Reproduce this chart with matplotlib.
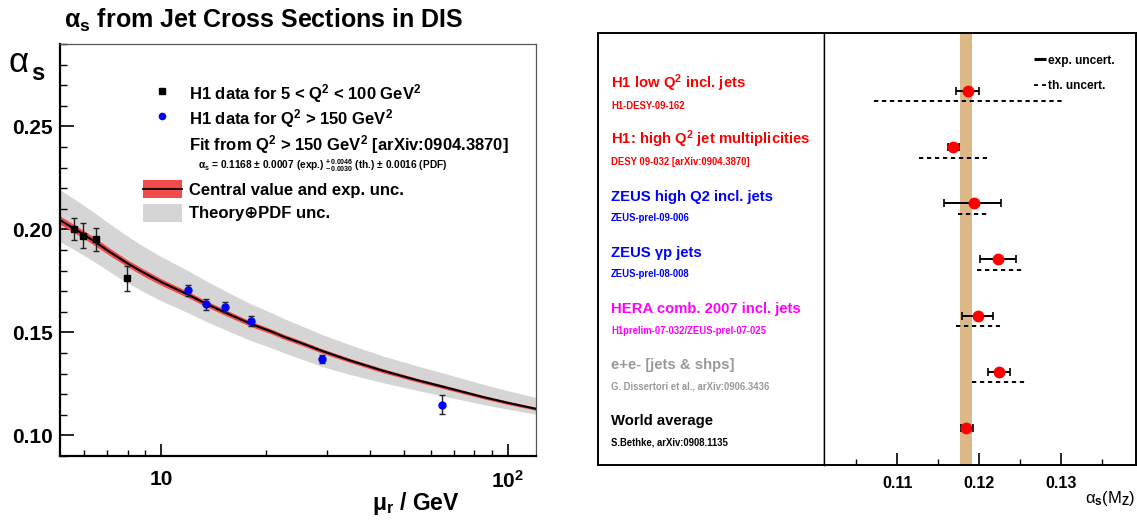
import matplotlib
matplotlib.use("Agg")
import matplotlib.pyplot as plt
import matplotlib.ticker as mt
import matplotlib.transforms as mtrans
from matplotlib.patches import Rectangle
from matplotlib import font_manager
import numpy as np

# ---------------- data: left panel ----------------
lowq_mu = [5.61, 5.97, 6.47, 7.95]
lowq_as = [0.2001, 0.1969, 0.1951, 0.1762]
lowq_err = [0.0054, 0.0060, 0.0057, 0.0061]

highq_mu = [11.97, 13.45, 15.24, 18.15, 29.1, 64.4]
highq_as = [0.1704, 0.1636, 0.1624, 0.1555, 0.1370, 0.1150]
highq_err = [0.0025, 0.0025, 0.0024, 0.0023, 0.0019, 0.0045]

fit_mu = [5.11, 5.61, 5.97, 6.47, 7.08, 7.95, 8.84, 10.05, 11.97, 13.45, 15.24, 18.1,
          20.96, 22.5, 26.15, 29.1, 35.0, 43.6, 54.5, 64.4, 84.9, 100.0, 120.5]
fit_central = [0.2045, 0.2004, 0.1976, 0.1938, 0.1893, 0.1838, 0.1793, 0.1743, 0.1683,
               0.1640, 0.1598, 0.1542, 0.1502, 0.1480, 0.1440, 0.1410, 0.1364, 0.1314,
               0.1269, 0.1238, 0.1186, 0.1158, 0.1129]
fit_exp = [0.0020, 0.0020, 0.0019, 0.0019, 0.0018, 0.0017, 0.0017, 0.0016, 0.0015, 0.0014,
           0.0014, 0.0013, 0.0012, 0.0012, 0.0011, 0.0011, 0.0010, 0.0010, 0.0009, 0.0009,
           0.0008, 0.0008, 0.0007]
fit_th_hi = [0.2192, 0.2148, 0.2118, 0.2077, 0.2029, 0.1970, 0.1921, 0.1866, 0.1799, 0.1751,
             0.1703, 0.1639, 0.1593, 0.1568, 0.1523, 0.1490, 0.1440, 0.1386, 0.1338, 0.1305,
             0.1248, 0.1217, 0.1184]
fit_th_lo = [0.1941, 0.1902, 0.1875, 0.1839, 0.1796, 0.1743, 0.1700, 0.1652, 0.1595, 0.1554,
             0.1514, 0.1461, 0.1423, 0.1402, 0.1363, 0.1334, 0.1296, 0.1256, 0.1219, 0.1193,
             0.1150, 0.1127, 0.1103]

# ---------------- data: right panel ----------------
meas_titles = ["H1 low Q$^2$ incl. jets", "H1: high Q$^2$ jet multiplicities",
               "ZEUS high Q2 incl. jets", "ZEUS \u03b3p jets",
               "HERA comb. 2007 incl. jets", "e+e- [jets & shps]", "World average"]
meas_refs = ["H1-DESY-09-162", "DESY 09-032 [arXiv:0904.3870]", "ZEUS-prel-09-006",
             "ZEUS-prel-08-008", "H1prelim-07-032/ZEUS-prel-07-025",
             "G. Dissertori et al., arXiv:0906.3436", "S.Bethke, arXiv:0908.1135"]
meas_colors = ["#ff0000", "#ff0000", "#0000ff", "#0000ff", "#ff00ff", "#999999", "#000000"]
meas_val = [0.1186, 0.1168, 0.1193, 0.1223, 0.1198, 0.1224, 0.1184]
exp_lo = [0.1172, 0.1162, 0.1157, 0.1201, 0.1179, 0.1211, 0.1178]
exp_hi = [0.1200, 0.1175, 0.1227, 0.1245, 0.1217, 0.1237, 0.1192]
th_lo = [0.1071, 0.1127, 0.1174, 0.1197, 0.1172, 0.1191, np.nan]
th_hi = [0.1302, 0.1209, 0.1211, 0.1253, 0.1225, 0.1258, np.nan]
world_band = [0.1177, 0.1191]
x_ticks_r = [0.11, 0.12, 0.13]

# ---------------- fonts ----------------
names = {f.name for f in font_manager.fontManager.ttflist}
if "Liberation Sans Narrow" in names:
    NARROW = ["Liberation Sans Narrow", "DejaVu Sans"]
    ns = 1.0
else:
    NARROW = ["Liberation Sans", "DejaVu Sans"]
    ns = 0.86

plt.rcParams.update({
    "font.family": ["Liberation Sans", "DejaVu Sans"],
    "font.weight": "bold",
    "mathtext.fontset": "custom",
    "mathtext.rm": "Liberation Sans:bold",
    "mathtext.it": "Liberation Sans:italic:bold",
    "mathtext.bf": "Liberation Sans:bold",
    "mathtext.sf": "Liberation Sans:bold",
    "mathtext.default": "regular",
})

W, H = 1137, 523
fig = plt.figure(figsize=(W / 100, H / 100), dpi=100)


def fbox(x0, y0, x1, y1):
    return [x0 / W, 1 - y1 / H, (x1 - x0) / W, (y1 - y0) / H]

# ================= left panel =================
L, T, R, B = 60, 44, 536, 456
ax = fig.add_axes(fbox(L, T, R, B))
ax.set_xscale("log")
ax.set_xlim(5.11, 120.5)
ax.set_ylim(0.090, 0.290)

ax.fill_between(fit_mu, fit_th_lo, fit_th_hi, color="#d5d5d5", lw=0, zorder=1)
c = np.array(fit_central)
e = np.array(fit_exp)
ax.fill_between(fit_mu, c - e, c + e, color="#f24a4a", lw=0, zorder=2)
ax.plot(fit_mu, fit_central, color="black", lw=1.5, zorder=3)

ax.errorbar(lowq_mu, lowq_as, yerr=lowq_err, fmt="s", ms=5, mfc="black", mec="black",
            ecolor="#222222", elinewidth=1.0, capsize=2, capthick=1.0, zorder=5)
ax.errorbar(highq_mu, highq_as, yerr=highq_err, fmt="o", ms=5, mfc="#0000ff", mec="#0000ff",
            ecolor="#222222", elinewidth=1.0, capsize=2, capthick=1.0, zorder=5)

ax.set_yticks([0.10, 0.15, 0.20, 0.25])
ax.set_yticklabels(["0.10", "0.15", "0.20", "0.25"])
ax.yaxis.set_minor_locator(mt.MultipleLocator(0.01))
ax.set_xticks([10, 100])
ax.set_xticklabels(["10", "10$^2$"])
ax.set_xticks([6, 7, 8, 9, 20, 30, 40, 50, 60, 70, 80, 90], minor=True)
ax.xaxis.set_minor_formatter(mt.NullFormatter())
ax.tick_params(axis="x", which="major", direction="in", length=8.6, width=1.2, pad=10, labelsize=15)
ax.tick_params(axis="x", which="minor", direction="in", length=4.3, width=1.0)
ax.tick_params(axis="y", which="major", direction="in", length=10, width=1.2, pad=5, labelsize=15)
ax.tick_params(axis="y", which="minor", direction="in", length=5, width=1.0)
for s in ["left", "bottom"]:
    ax.spines[s].set_linewidth(1.6)
for s in ["top", "right"]:
    ax.spines[s].set_linewidth(0.9)
    ax.spines[s].set_color("#555555")


def axx(px):
    return (px - L) / (R - L)


def axy(py):
    return (B - py) / (B - T)

# legend (hand placed)
ax.plot([axx(162)], [axy(90.7)], "s", color="black", ms=5, transform=ax.transAxes, clip_on=False)
ax.plot([axx(162)], [axy(116.3)], "o", color="#0000ff", ms=4.5, transform=ax.transAxes, clip_on=False)
lx = axx(189)
ax.text(lx, axy(99.3), "H1 data for 5 < Q$^2$ < 100 GeV$^2$", transform=ax.transAxes,
        fontsize=12, va="baseline")
ax.text(lx, axy(124), "H1 data for Q$^2$ > 150 GeV$^2$", transform=ax.transAxes,
        fontsize=12, va="baseline")
ax.text(lx, axy(150), "Fit from Q$^2$ > 150 GeV$^2$ [arXiv:0904.3870]", transform=ax.transAxes,
        fontsize=12, va="baseline")
ax.text(axx(198.5), axy(168.5),
        "\u03b1$_{\\rm s}$ = 0.1168 \u00b1 0.0007 (exp.) $^{+0.0046}_{-0.0030}$ (th.) \u00b1 0.0016 (PDF)",
        transform=ax.transAxes, fontsize=7.3, va="baseline")
ax.add_patch(Rectangle((axx(143), axy(197.7)), axx(182) - axx(143), axy(180) - axy(197.7),
                       transform=ax.transAxes, facecolor="#f24a4a", edgecolor="none", zorder=6))
ax.plot([axx(143), axx(182)], [axy(188.9), axy(188.9)], color="black", lw=1.3,
        transform=ax.transAxes, zorder=7)
ax.add_patch(Rectangle((axx(143), axy(222.3)), axx(182) - axx(143), axy(204.3) - axy(222.3),
                       transform=ax.transAxes, facecolor="#d5d5d5", edgecolor="none", zorder=6))
ax.text(lx, axy(195), "Central value and exp. unc.", transform=ax.transAxes, fontsize=12, va="baseline")
ax.text(lx, axy(218.3), "Theory\u2295PDF unc.", transform=ax.transAxes, fontsize=12, va="baseline")

# titles / axis labels
fig.text(64 / W, 1 - 28 / H, "\u03b1$_{\\rm s}$ from Jet Cross Sections in DIS", fontsize=18,
         va="baseline")
fig.text(9 / W, 1 - 72 / H, "\u03b1", fontsize=25, weight="normal", va="baseline")
fig.text(31 / W, 1 - 80 / H, "s", fontsize=17, va="baseline")
fig.text(460 / W, 1 - 510 / H, "\u03bc$_{\\rm r}$ / GeV", fontsize=16.5, ha="right", va="baseline")

# ================= right panel =================
RL, RD, RR, RT, RB = 598, 823.7, 1135.6, 32.7, 465
row_px0, row_dpx = 90.7, 56.2
ylo = (RB - row_px0) / row_dpx
yhi = (RT - row_px0) / row_dpx

ax_lab = fig.add_axes(fbox(RL, RT, RD, RB))
ax_lab.set_xlim(0, 1)
ax_lab.set_ylim(ylo, yhi)
ax_lab.set_xticks([])
ax_lab.set_yticks([])
for s in ax_lab.spines.values():
    s.set_linewidth(1.4)
ax_lab.spines["right"].set_linewidth(1.0)

ax_r = fig.add_axes(fbox(RD, RT, RR, RB))
ax_r.set_xlim(0.1010, 0.1391)
ax_r.set_ylim(ylo, yhi)
ax_r.set_yticks([])
for s in ax_r.spines.values():
    s.set_linewidth(1.4)
ax_r.spines["left"].set_linewidth(1.0)

rows = np.arange(len(meas_val))
ax_r.axvspan(world_band[0], world_band[1], color="#dcb886", lw=0, zorder=1)
val = np.array(meas_val)
ax_r.errorbar(meas_val, rows, xerr=[val - np.array(exp_lo), np.array(exp_hi) - val], fmt="o",
              ms=7.5, mfc="#ff0000", mec="#ff0000", ecolor="black", elinewidth=1.4,
              capsize=2.6, capthick=1.2, zorder=4)
tl = np.array(th_lo)
th = np.array(th_hi)
ok = ~np.isnan(tl)
ax_r.hlines(rows[ok] + 0.19, tl[ok], th[ok], colors="black", linestyles=(0, (2.2, 1.9)),
            lw=1.4, zorder=3)

ax_r.set_xticks(x_ticks_r)
ax_r.set_xticklabels(["%.2f" % v for v in x_ticks_r])
ax_r.xaxis.set_minor_locator(mt.MultipleLocator(0.005))
ax_r.tick_params(axis="x", which="major", direction="in", length=8.6, width=1.2, pad=8,
                 labelsize=13.5 * ns)
ax_r.tick_params(axis="x", which="minor", direction="in", length=4.3, width=1.0)
for lbl in ax_r.get_xticklabels():
    lbl.set_fontfamily(NARROW)

# legend of right panel
btr = mtrans.blended_transform_factory(ax_r.transAxes, ax_r.transData)
x0 = (1033.9 - RD) / (RR - RD)
x1 = (1046.1 - RD) / (RR - RD)
xt = (1048.5 - RD) / (RR - RD)
y_exp = (59.3 - row_px0) / row_dpx
y_th = (85.0 - row_px0) / row_dpx
ax_r.plot([x0, x1], [y_exp, y_exp], color="black", lw=2.2, transform=btr, solid_capstyle="butt")
ax_r.plot([x0, x1], [y_th, y_th], color="black", lw=1.3, transform=btr, linestyle=(0, (2.2, 2.2)))
ax_r.text(xt, y_exp + 0.075, "exp. uncert.", transform=btr, fontsize=10 * ns, family=NARROW,
          va="baseline")
ax_r.text(xt, y_th + 0.075, "th. uncert.", transform=btr, fontsize=10 * ns, family=NARROW,
          va="baseline")

# row labels
btl = mtrans.blended_transform_factory(ax_lab.transAxes, ax_lab.transData)
xl = (611 - RL) / (RD - RL)
for i, (t, r, col) in enumerate(zip(meas_titles, meas_refs, meas_colors)):
    ax_lab.text(xl, i - 0.046, t, transform=btl, color=col, fontsize=12.5 * ns, family=NARROW,
                va="baseline")
    ax_lab.text(xl, i + 0.322, r, transform=btl, color=col, fontsize=8 * ns, family=NARROW,
                va="baseline")

fig.text(1135 / W, 1 - 503 / H, "\u03b1$_{\\rm s}$(M$_{\\rm Z}$)", fontsize=12, weight="normal",
         family=NARROW, ha="right", va="baseline")

fig.savefig("out.png", dpi=100)
